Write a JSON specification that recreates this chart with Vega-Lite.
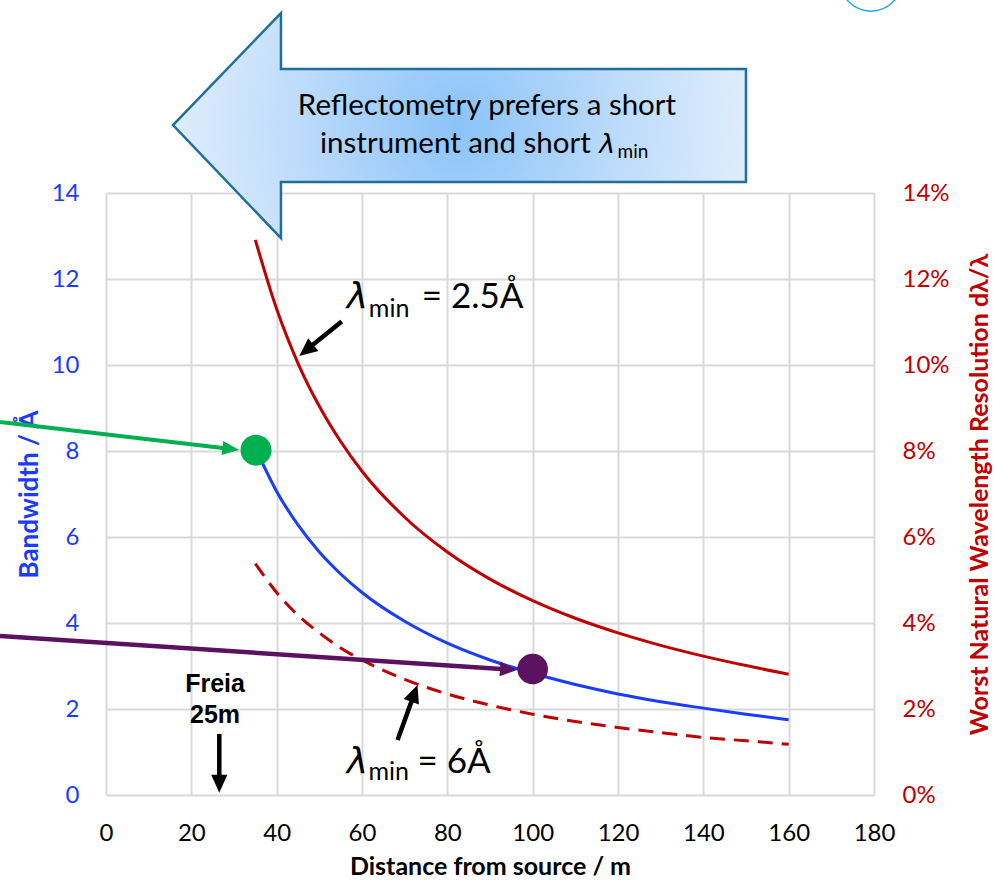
{
  "$schema": "https://vega.github.io/schema/vega-lite/v6.json",
  "width": 768,
  "height": 602,
  "autosize": {"type": "none"},
  "padding": {"left": 106, "top": 193, "right": 121, "bottom": 88},
  "background": "white",
  "config": {
    "font": "Lato",
    "view": {"stroke": null},
    "axis": {"grid": false, "domain": false, "ticks": false, "labelFlush": false, "labelOverlap": false}
  },
  "datasets": {
    "curves": [
      {"x": 35, "bw": 8.07, "r25": 0.1291, "r6": 0.0538},
      {"x": 40, "bw": 7.06, "r25": 0.1130, "r6": 0.0471},
      {"x": 45, "bw": 6.28, "r25": 0.1004, "r6": 0.0418},
      {"x": 50, "bw": 5.65, "r25": 0.0904, "r6": 0.0377},
      {"x": 55, "bw": 5.14, "r25": 0.0822, "r6": 0.0342},
      {"x": 60, "bw": 4.71, "r25": 0.0753, "r6": 0.0314},
      {"x": 70, "bw": 4.04, "r25": 0.0646, "r6": 0.0269},
      {"x": 80, "bw": 3.53, "r25": 0.0565, "r6": 0.0235},
      {"x": 90, "bw": 3.14, "r25": 0.0502, "r6": 0.0209},
      {"x": 100, "bw": 2.83, "r25": 0.0452, "r6": 0.0188},
      {"x": 110, "bw": 2.57, "r25": 0.0411, "r6": 0.0171},
      {"x": 120, "bw": 2.35, "r25": 0.0377, "r6": 0.0157},
      {"x": 130, "bw": 2.17, "r25": 0.0348, "r6": 0.0145},
      {"x": 140, "bw": 2.02, "r25": 0.0323, "r6": 0.0134},
      {"x": 150, "bw": 1.88, "r25": 0.0301, "r6": 0.0126},
      {"x": 160, "bw": 1.75, "r25": 0.0281, "r6": 0.0118}
    ]
  },
  "layer": [
    {
      "data": {"name": "curves"},
      "layer": [
        {
          "mark": {"type": "line", "color": "#c00000", "strokeWidth": 3, "interpolate": "monotone"},
          "encoding": {
            "x": {"field": "x", "type": "quantitative", "scale": {"domain": [0, 180], "nice": false}},
            "y": {"field": "r25", "type": "quantitative", "scale": {"domain": [0, 0.14], "nice": false},
              "axis": {"orient": "right", "values": [0, 0.02, 0.04, 0.06, 0.08, 0.1, 0.12, 0.14], "format": ".0%",
                "labelColor": "#c00000", "labelFontSize": 24, "labelPadding": 28,
                "title": "Worst Natural Wavelength Resolution dλ/λ", "titleColor": "#c00000", "titleFontSize": 25,
                "titleFontWeight": "bold", "titleAngle": 270, "titlePadding": 43}}
          }
        },
        {
          "mark": {"type": "line", "color": "#c00000", "strokeWidth": 3, "strokeDash": [15, 9], "interpolate": "monotone"},
          "encoding": {
            "x": {"field": "x", "type": "quantitative", "scale": {"domain": [0, 180], "nice": false}},
            "y": {"field": "r6", "type": "quantitative", "scale": {"domain": [0, 0.14], "nice": false},
              "axis": {"orient": "right", "values": [0, 0.02, 0.04, 0.06, 0.08, 0.1, 0.12, 0.14], "format": ".0%",
                "labelColor": "#c00000", "labelFontSize": 24, "labelPadding": 28,
                "title": "Worst Natural Wavelength Resolution dλ/λ", "titleColor": "#c00000", "titleFontSize": 25,
                "titleFontWeight": "bold", "titleAngle": 270, "titlePadding": 43}}
          }
        }
      ]
    },
    {
      "encoding": {
        "x": {"field": "x", "type": "quantitative", "scale": {"domain": [0, 180], "nice": false}},
        "y": {"field": "y", "type": "quantitative", "scale": {"domain": [0, 14], "nice": false}}
      },
      "layer": [
        {
          "data": {"name": "curves"},
          "mark": {"type": "line", "color": "#1a3cff", "strokeWidth": 3, "interpolate": "monotone"},
          "encoding": {
            "x": {"field": "x", "type": "quantitative", "scale": {"domain": [0, 180], "nice": false},
              "axis": {"values": [0, 20, 40, 60, 80, 100, 120, 140, 160, 180], "grid": true, "gridColor": "#d9d9d9", "gridWidth": 2,
                "labelFontSize": 24, "labelColor": "black", "labelPadding": 26,
                "title": "Distance from source / m", "titleFontSize": 25, "titleFontWeight": "bold", "titleColor": "black", "titlePadding": 9}},
            "y": {"field": "bw", "type": "quantitative", "scale": {"domain": [0, 14], "nice": false},
              "axis": {"orient": "left", "values": [0, 2, 4, 6, 8, 10, 12, 14], "grid": true, "gridColor": "#d9d9d9", "gridWidth": 2,
                "labelColor": "#1a3cff", "labelFontSize": 24, "labelPadding": 27,
                "title": "Bandwidth / Å", "titleColor": "#1a3cff", "titleFontSize": 26, "titleFontWeight": "bold", "titlePadding": 9}}
          }
        },
        {
          "data": {"values": [{"x": -24.84, "y": 8.674}, {"x": 29.39, "y": 8.044}]},
          "mark": {"type": "line", "color": "#00b050", "strokeWidth": 4}
        },
        {
          "data": {"values": [{"x": 31.24, "y": 8.023}]},
          "mark": {"type": "point", "shape": "M0,0L-1,-0.42L-1,0.42Z", "size": 1156, "angle": 6.7, "filled": true, "color": "#00b050", "opacity": 1}
        },
        {
          "data": {"values": [{"x": 35.16, "y": 8.02}]},
          "mark": {"type": "point", "shape": "circle", "size": 961, "filled": true, "color": "#00b050", "opacity": 1}
        },
        {
          "data": {"values": [{"x": -24.84, "y": 3.70}, {"x": 94.45, "y": 2.919}]},
          "mark": {"type": "line", "color": "#5c1060", "strokeWidth": 4.5}
        },
        {
          "data": {"values": [{"x": 96.33, "y": 2.907}]},
          "mark": {"type": "point", "shape": "M0,0L-1,-0.44L-1,0.44Z", "size": 1156, "angle": 3.8, "filled": true, "color": "#5c1060", "opacity": 1}
        },
        {
          "data": {"values": [{"x": 100, "y": 2.93}]},
          "mark": {"type": "point", "shape": "circle", "size": 940, "filled": true, "color": "#5c1060", "opacity": 1}
        },
        {
          "data": {"values": [
            {"a": "a1", "x": 55.24, "y": 11.01}, {"a": "a1", "x": 47.11, "y": 10.36},
            {"a": "a2", "x": 68.34, "y": 1.28}, {"a": "a2", "x": 72.2, "y": 2.34},
            {"a": "a3", "x": 26.55, "y": 1.42}, {"a": "a3", "x": 26.55, "y": 0.30}
          ]},
          "mark": {"type": "line", "color": "black", "strokeWidth": 4.5},
          "encoding": {"detail": {"field": "a"}}
        },
        {
          "data": {"values": [
            {"x": 45.30, "y": 10.21, "ang": 141},
            {"x": 73.0, "y": 2.56, "ang": -70},
            {"x": 26.55, "y": 0.05, "ang": 90}
          ]},
          "mark": {"type": "point", "shape": "M0,0L-1,-0.45L-1,0.45Z", "size": 1296, "filled": true, "color": "black", "opacity": 1},
          "encoding": {"angle": {"field": "ang", "type": "quantitative", "scale": null}}
        },
        {
          "data": {"values": [{"x": 82.96, "y": 15.58}]},
          "mark": {"type": "point", "shape": "M-287,0L-179,-112L-179,-56L286,-56L286,57L-179,57L-179,113Z", "size": 4,
            "filled": true, "opacity": 1, "stroke": "#1f6e9c", "strokeWidth": 2.5,
            "fill": {"gradient": "radial", "x1": 0.5, "y1": 0.5, "r1": 0, "x2": 0.5, "y2": 0.5, "r2": 0.55,
              "stops": [{"offset": 0, "color": "#8ac3f8"}, {"offset": 0.55, "color": "#c0ddfb"}, {"offset": 1, "color": "#e6f1fd"}]}}
        },
        {
          "data": {"values": [{"x": 179.3, "y": 18.95}]},
          "mark": {"type": "point", "shape": "circle", "size": 3844, "filled": false, "stroke": "#2aa9e0", "strokeWidth": 1.5, "opacity": 1}
        },
        {
          "data": {"values": [{"x": 89.3, "y": 15.81, "t": "Reflectometry prefers a short"}]},
          "mark": {"type": "text", "align": "center", "baseline": "alphabetic", "fontSize": 29.5, "color": "black"},
          "encoding": {"text": {"field": "t"}}
        },
        {
          "data": {"values": [{"x": 50.16, "y": 14.93, "t": "instrument and short"}]},
          "mark": {"type": "text", "align": "left", "baseline": "alphabetic", "fontSize": 29.5, "color": "black"},
          "encoding": {"text": {"field": "t"}}
        },
        {
          "data": {"values": [{"x": 115.6, "y": 14.93, "t": "λ"}]},
          "mark": {"type": "text", "align": "left", "baseline": "alphabetic", "fontSize": 27, "font": "DejaVu Sans", "fontStyle": "italic", "color": "black"},
          "encoding": {"text": {"field": "t"}}
        },
        {
          "data": {"values": [{"x": 119.9, "y": 14.81, "t": "min"}]},
          "mark": {"type": "text", "align": "left", "baseline": "alphabetic", "fontSize": 19, "color": "black"},
          "encoding": {"text": {"field": "t"}}
        },
        {
          "data": {"values": [{"x": 56.4, "y": 11.33, "t": "λ"}, {"x": 56.4, "y": 0.51, "t": "λ"}]},
          "mark": {"type": "text", "align": "left", "baseline": "alphabetic", "fontSize": 36, "font": "DejaVu Sans", "fontStyle": "italic", "color": "black"},
          "encoding": {"text": {"field": "t"}}
        },
        {
          "data": {"values": [{"x": 61.6, "y": 11.12, "t": "min"}, {"x": 61.5, "y": 0.35, "t": "min"}]},
          "mark": {"type": "text", "align": "left", "baseline": "alphabetic", "fontSize": 25, "color": "black"},
          "encoding": {"text": {"field": "t"}}
        },
        {
          "data": {"values": [{"x": 74.0, "y": 11.33, "t": "= 2.5Å"}, {"x": 73.0, "y": 0.51, "t": "= 6Å"}]},
          "mark": {"type": "text", "align": "left", "baseline": "alphabetic", "fontSize": 35, "color": "black"},
          "encoding": {"text": {"field": "t"}}
        },
        {
          "data": {"values": [{"x": 25.55, "y": 2.40, "t": "Freia"}, {"x": 25.55, "y": 1.67, "t": "25m"}]},
          "mark": {"type": "text", "align": "center", "baseline": "alphabetic", "fontSize": 25, "font": "Liberation Sans", "fontWeight": "bold", "color": "black"},
          "encoding": {"text": {"field": "t"}}
        }
      ]
    }
  ],
  "resolve": {"scale": {"y": "independent"}, "axis": {"y": "independent"}}
}
